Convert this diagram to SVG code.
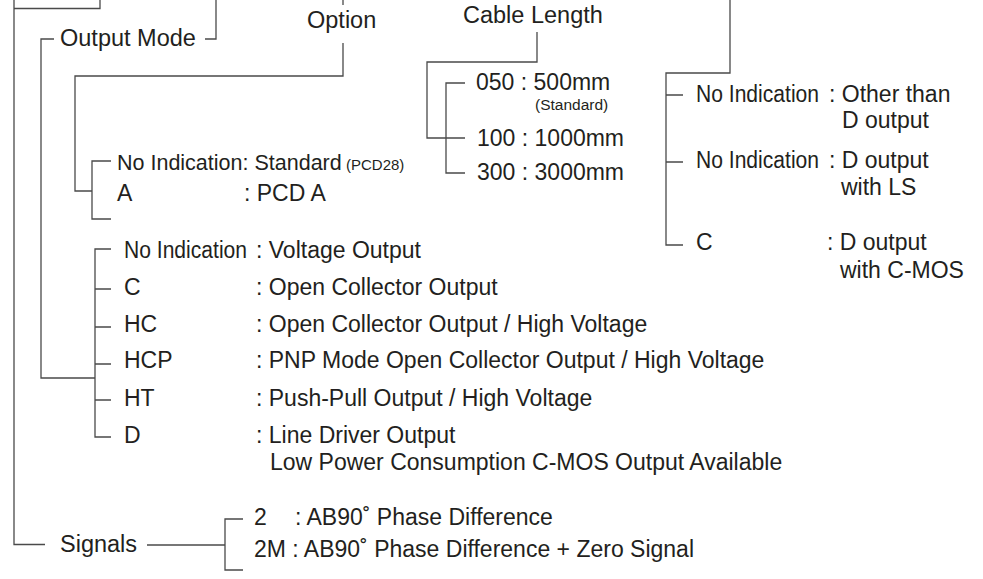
<svg xmlns="http://www.w3.org/2000/svg" width="983" height="579" viewBox="0 0 983 579">
<style>
text { font-family: "Liberation Sans", Arial, Helvetica, sans-serif; font-size: 23px; fill: #231f20; }
.h { font-size: 23.5px; }
.o { font-size: 21.5px; }
.s { font-size: 15.5px; }
.ss { font-size: 15px; }
.ln { fill: none; stroke: #4a4a4a; stroke-width: 1.3; }
</style>
<rect width="983" height="579" fill="#ffffff"/>
<g id="connectors" class="ln">
<path d="M14 0 V544.5 H45"/>
<path d="M14 8.5 H100 V0"/>
<path d="M216 0 V39 H205"/>
<path d="M54 39 H41 V378 H95"/>
<path d="M343 0 V5"/>
<path d="M343 43 V76 H75 V191 H92"/>
<path d="M111 161 H92 V219 H111"/>
<path d="M537 32 V62 H427 V138 H465"/>
<path d="M465 83 H446 V173 H465"/>
<path d="M111 249 H95 V437 H111"/>
<path d="M95 289 H111 M95 327 H111 M95 364 H111 M95 400 H111"/>
<path d="M730 0 V73 H666 V245 H683"/>
<path d="M666 95 H683 M666 162 H683"/>
<path d="M147 545 H225"/>
<path d="M243 519 H225 V570 H243"/>
</g>
<g id="output-mode"><text class="h" x="60" y="46">Output Mode</text></g>
<g id="option"><text class="h" x="307" y="28">Option</text></g>
<g id="cable-length"><text class="h" x="463" y="23">Cable Length</text></g>
<g id="signals"><text class="h" x="60" y="552">Signals</text></g>
<g id="cable-050"><text x="476" y="90">050 : 500mm</text><text class="s" x="535" y="110">(Standard)</text></g>
<g id="cable-100"><text x="477" y="146">100 : 1000mm</text></g>
<g id="cable-300"><text x="477" y="180">300 : 3000mm</text></g>
<g id="option-std"><text class="o" x="117" y="170">No Indication: Standard</text><text class="ss" x="346" y="170">(PCD28)</text></g>
<g id="option-a"><text x="117" y="201">A</text><text x="244" y="201">: PCD A</text></g>
<g id="om-none"><text x="124" y="258" textLength="123" lengthAdjust="spacingAndGlyphs">No Indication</text><text x="256" y="258">: Voltage Output</text></g>
<g id="om-c"><text x="124" y="295">C</text><text x="256" y="295">: Open Collector Output</text></g>
<g id="om-hc"><text x="124" y="332">HC</text><text x="256" y="332">: Open Collector Output / High Voltage</text></g>
<g id="om-hcp"><text x="124" y="368">HCP</text><text x="256" y="368">: PNP Mode Open Collector Output / High Voltage</text></g>
<g id="om-ht"><text x="124" y="406">HT</text><text x="256" y="406">: Push-Pull Output / High Voltage</text></g>
<g id="om-d"><text x="124" y="443">D</text><text x="256" y="443">: Line Driver Output</text><text x="270" y="470">Low Power Consumption C-MOS Output Available</text></g>
<g id="r-none1"><text x="696" y="102" textLength="123" lengthAdjust="spacingAndGlyphs">No Indication</text><text x="829" y="102">: Other than</text><text x="842" y="128">D output</text></g>
<g id="r-none2"><text x="696" y="168" textLength="123" lengthAdjust="spacingAndGlyphs">No Indication</text><text x="829" y="168">: D output</text><text x="841" y="195">with LS</text></g>
<g id="r-c"><text x="696" y="250">C</text><text x="827" y="250">: D output</text><text x="840" y="278">with C-MOS</text></g>
<g id="sig-2"><text x="254" y="525">2</text><text x="295" y="525">: AB90˚ Phase Difference</text></g>
<g id="sig-2m"><text x="254" y="557">2M : AB90˚ Phase Difference + Zero Signal</text></g>
</svg>
